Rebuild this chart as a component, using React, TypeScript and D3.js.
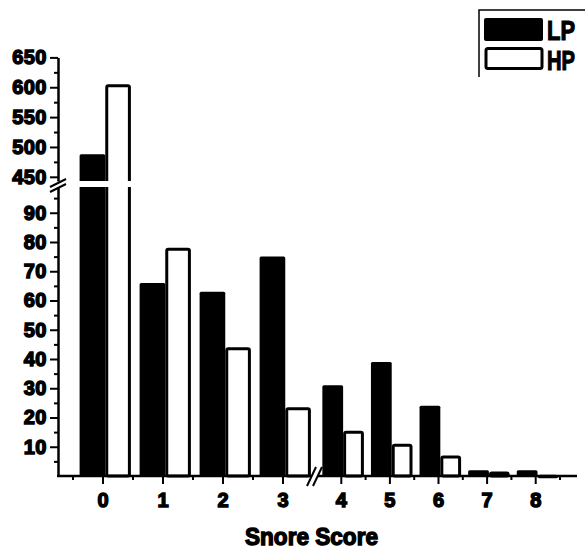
import React, { useEffect, useRef } from "react";
import * as d3 from "d3";

const categories = ["0", "1", "2", "3", "4", "5", "6", "7", "8"];
const leftCategories = categories.slice(0, 4);
const rightCategories = categories.slice(4);
const seriesNames = ["LP", "HP"];
const lpValues = [488, 66, 63, 75, 31, 39, 24, 2, 2];
const hpValues = [605, 78, 44, 23.5, 15.5, 11, 7, 1.5, 0.4];
const lowerTicks = [10, 20, 30, 40, 50, 60, 70, 80, 90];
const lowerMinorTicks = [5, 15, 25, 35, 45, 55, 65, 75, 85, 95];
const upperTicks = [450, 500, 550, 600, 650];
const upperMinorTicks = [475, 525, 575, 625];

function App() {
  const svgRef = useRef<SVGSVGElement>(null);

  useEffect(() => {
    const svg = d3.select(svgRef.current);
    svg.selectAll("*").remove();

    const FONT = "'Liberation Sans', Arial, Helvetica, sans-serif";
    const AXIS_X = 58;
    const BASE_Y = 476;

    const yLower = d3.scaleLinear().domain([0, 98.8]).range([BASE_Y, 187]);
    const yUpper = d3.scaleLinear().domain([443, 650]).range([181, 57.4]);
    const yValue = (v: number) => (v > yLower.domain()[1] ? yUpper(v) : yLower(v));

    const xLeft = d3.scaleBand().domain(leftCategories).range([73, 313]);
    const xRight = d3.scaleBand().domain(rightCategories).range([317, 560]);
    const bandFor = (c: string) => (leftCategories.includes(c) ? xLeft : xRight);

    const rows = categories.map((c, i) => ({ cat: c, LP: lpValues[i], HP: hpValues[i] }));

    // bars
    const bars = svg.append("g");
    rows.forEach((r) => {
      const band = bandFor(r.cat);
      const bw = band.bandwidth();
      const sub = d3.scaleBand().domain(seriesNames).range([bw * 0.11, bw * 0.965]);
      const x0 = band(r.cat) as number;

      bars
        .append("rect")
        .attr("x", x0 + (sub("LP") as number))
        .attr("y", yValue(r.LP))
        .attr("width", sub.bandwidth())
        .attr("height", BASE_Y - yValue(r.LP))
        .attr("rx", 1.5)
        .attr("fill", "#000");

      const top = yValue(r.HP) + 1.5;
      bars
        .append("rect")
        .attr("x", x0 + (sub("HP") as number) + 1.5)
        .attr("y", top)
        .attr("width", sub.bandwidth() - 3)
        .attr("height", Math.max(0.5, BASE_Y - top))
        .attr("rx", 1.5)
        .attr("fill", "#fff")
        .attr("stroke", "#000")
        .attr("stroke-width", 3);
    });

    // gap of the broken y axis
    svg.append("rect").attr("x", AXIS_X + 2).attr("y", 181).attr("width", 90).attr("height", 6).attr("fill", "#fff");

    // y axes
    const styleText = (g: any, size: number) =>
      g
        .selectAll("text")
        .attr("font-family", FONT)
        .attr("font-weight", "bold")
        .attr("font-size", size)
        .attr("fill", "#000")
        .attr("stroke", "#000")
        .attr("stroke-width", 1.4);

    const gy = svg.append("g").attr("transform", `translate(${AXIS_X},0)`);
    [
      [yLower, lowerTicks, lowerMinorTicks],
      [yUpper, upperTicks, upperMinorTicks],
    ].forEach(([scale, major, minor]: any) => {
      const a = gy
        .append("g")
        .call(d3.axisLeft(scale).tickValues(major).tickSize(8).tickSizeOuter(0).tickPadding(3));
      a.select(".domain").attr("stroke-width", 2.5);
      a.selectAll(".tick line").attr("stroke-width", 2);
      styleText(a, 20);
      a.selectAll("text").attr("letter-spacing", 0.5);

      const m = gy
        .append("g")
        .call(d3.axisLeft(scale).tickValues(minor).tickSize(4).tickFormat(() => ""));
      m.select(".domain").remove();
      m.selectAll(".tick line").attr("stroke-width", 2);
    });

    // y break marks
    [0, 5].forEach((dy) => {
      svg
        .append("line")
        .attr("x1", AXIS_X - 8)
        .attr("y1", 187 + dy)
        .attr("x2", AXIS_X + 8)
        .attr("y2", 179 + dy)
        .attr("stroke", "#000")
        .attr("stroke-width", 2);
    });

    // x axis line
    [
      [AXIS_X - 1, 311],
      [318, 577],
    ].forEach(([a, b]) => {
      svg
        .append("line")
        .attr("x1", a)
        .attr("x2", b)
        .attr("y1", BASE_Y)
        .attr("y2", BASE_Y)
        .attr("stroke", "#000")
        .attr("stroke-width", 2.5);
    });

    [xLeft, xRight].forEach((scale) => {
      const a = svg
        .append("g")
        .attr("transform", `translate(0,${BASE_Y})`)
        .call(d3.axisBottom(scale).tickSize(8).tickPadding(9));
      a.select(".domain").remove();
      a.selectAll(".tick line").attr("stroke-width", 2);
      styleText(a, 20);
    });

    const minorX = [
      ...leftCategories.map((c) => xLeft(c) as number),
      ...rightCategories.map((c) => (xRight(c) as number) + xRight.bandwidth()),
    ];
    svg
      .append("g")
      .selectAll("line")
      .data(minorX)
      .join("line")
      .attr("x1", (d) => d)
      .attr("x2", (d) => d)
      .attr("y1", BASE_Y)
      .attr("y2", BASE_Y + 4)
      .attr("stroke", "#000")
      .attr("stroke-width", 2);

    // x break marks
    [0, 6].forEach((dx) => {
      svg
        .append("line")
        .attr("x1", 307 + dx)
        .attr("y1", 486)
        .attr("x2", 316 + dx)
        .attr("y2", 467)
        .attr("stroke", "#000")
        .attr("stroke-width", 2);
    });

    // x title
    svg
      .append("text")
      .attr("x", 311.5)
      .attr("y", 545)
      .attr("text-anchor", "middle")
      .attr("font-family", FONT)
      .attr("font-weight", "bold")
      .attr("font-size", 24)
      .attr("textLength", 133)
      .attr("lengthAdjust", "spacingAndGlyphs")
      .attr("stroke", "#000")
      .attr("stroke-width", 1.4)
      .text("Snore Score");

    // legend
    const lg = svg.append("g");
    lg.append("path").attr("d", "M479,77V10H585").attr("fill", "none").attr("stroke", "#000").attr("stroke-width", 1.5);
    lg.append("rect").attr("x", 484).attr("y", 18).attr("width", 59).attr("height", 23).attr("rx", 2).attr("fill", "#000");
    lg.append("rect")
      .attr("x", 486)
      .attr("y", 48.5)
      .attr("width", 56)
      .attr("height", 20)
      .attr("rx", 2)
      .attr("fill", "#fff")
      .attr("stroke", "#000")
      .attr("stroke-width", 3);
    seriesNames.forEach((s, i) => {
      lg.append("text")
        .attr("x", 547)
        .attr("y", 40 + i * 30)
        .attr("font-family", FONT)
        .attr("font-weight", "bold")
        .attr("font-size", 28)
        .attr("textLength", 28)
        .attr("lengthAdjust", "spacingAndGlyphs")
        .attr("stroke", "#000")
        .attr("stroke-width", 1.2)
        .text(s);
    });
  }, []);

  return (
    <svg
      ref={svgRef}
      width={585}
      height={549}
      style={{ position: "absolute", left: 0, top: 0, background: "#fff" }}
    ></svg>
  );
}

export default App;
